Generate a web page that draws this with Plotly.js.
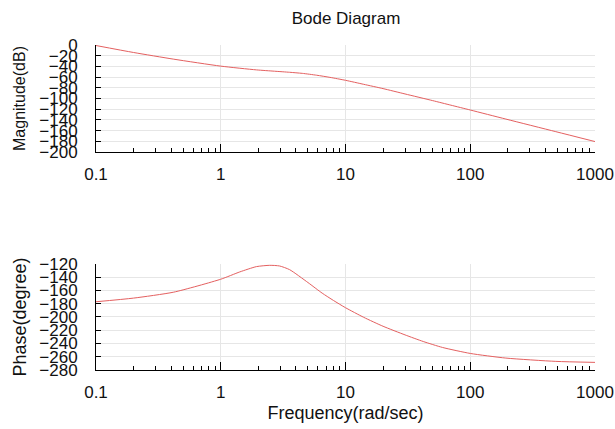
<!DOCTYPE html>
<html>
<head>
<meta charset="utf-8">
<script src="https://cdn.plot.ly/plotly-3.0.1.min.js"></script>
<style>html,body{margin:0;padding:0;background:#fff;}#chart{width:615px;height:429px;}</style>
</head>
<body>
<div id="chart"></div>
<script>
// Frequencies (rad/sec)
const magFreq = [0.1, 0.2, 0.42, 1, 1.93, 2.7, 3.56, 4.5, 5.87, 7.5, 10, 14, 20, 30, 50, 70, 100, 193, 485, 1000];
const magDb   = [-1, -14, -26.5, -39.5, -46.5, -49, -51, -53, -56.5, -60.5, -66, -73.5, -81.5, -91.5, -104, -112.5, -121.5, -138.5, -162, -180.5];

const phFreq = [0.1, 0.2, 0.42, 1, 1.42, 1.93, 2.47, 2.96, 3.56, 5, 6.5, 8, 10, 14, 20, 30, 42, 60, 100, 193, 485, 1000];
const phDeg  = [-177, -171.5, -162.5, -143, -132, -124, -122, -123, -128.5, -148, -164, -175, -186, -200.5, -214, -227, -237, -246, -255, -262, -267, -268.5];

const xTickVals = [0.1, 1, 10, 100, 1000];
const xTickText = ['0.1', '1', '10', '100', '1000'];
const magTicks = [0, -20, -40, -60, -80, -100, -120, -140, -160, -180, -200];
const phTicks = [-120, -140, -160, -180, -200, -220, -240, -260, -280];

const lineColor = 'rgb(228,96,96)';
const fontFam = 'Liberation Sans, Arial, sans-serif';

const xBase = {
  type: 'log', range: [-1, 3],
  tickmode: 'array', tickvals: xTickVals, ticktext: xTickText,
  ticks: 'inside', ticklen: 8, tickcolor: '#000', tickwidth: 1,
  showline: true, linecolor: '#000', linewidth: 1,
  showgrid: true, gridcolor: '#e6e6e6', gridwidth: 1,
  zeroline: false, mirror: false,
  tickfont: {family: fontFam, size: 17, color: '#111'},
  ticklabelstandoff: 7,
  minor: {ticks: 'inside', ticklen: 4, tickcolor: '#000', dtick: 'D1', showgrid: false}
};
const yBase = {
  tickmode: 'array',
  ticks: 'inside', ticklen: 5, tickcolor: '#000',
  showline: true, linecolor: '#000', linewidth: 1,
  showgrid: true, gridcolor: '#e6e6e6', gridwidth: 1,
  zeroline: false,
  tickfont: {family: fontFam, size: 17, color: '#111'},
  ticklabelstandoff: 14
};

const data = [
  {x: magFreq, y: magDb, xaxis: 'x', yaxis: 'y', mode: 'lines', line: {color: lineColor, width: 1, shape: 'spline', smoothing: 0.6}, hoverinfo: 'skip'},
  {x: phFreq, y: phDeg, xaxis: 'x2', yaxis: 'y2', mode: 'lines', line: {color: lineColor, width: 1, shape: 'spline', smoothing: 0.6}, hoverinfo: 'skip'}
];

const layout = {
  width: 615, height: 429,
  margin: {l: 96, r: 20, t: 45, b: 59},
  paper_bgcolor: '#fff', plot_bgcolor: '#fff',
  showlegend: false,
  font: {family: fontFam, color: '#111'},
  title: {text: 'Bode Diagram', font: {family: fontFam, size: 17, color: '#111'}, x: 0.5626, xanchor: 'center', y: 0.958, yanchor: 'middle'},
  xaxis: Object.assign({}, xBase, {domain: [0, 1], anchor: 'y'}),
  yaxis: Object.assign({}, yBase, {domain: [0.6708, 1], range: [-200, 0], tickvals: magTicks, anchor: 'x',
    title: {text: 'Magnitude(dB)', font: {family: fontFam, size: 16, color: '#111'}, standoff: 9}}),
  xaxis2: Object.assign({}, xBase, {domain: [0, 1], anchor: 'y2',
    title: {text: 'Frequency(rad/sec)', font: {family: fontFam, size: 18, color: '#111'}, standoff: 4}}),
  yaxis2: Object.assign({}, yBase, {domain: [0, 0.3262], range: [-280, -120], tickvals: phTicks, anchor: 'x2',
    title: {text: 'Phase(degree)', font: {family: fontFam, size: 18, color: '#111'}, standoff: 7}})
};

Plotly.newPlot('chart', data, layout, {displayModeBar: false, staticPlot: true});
</script>
</body>
</html>
